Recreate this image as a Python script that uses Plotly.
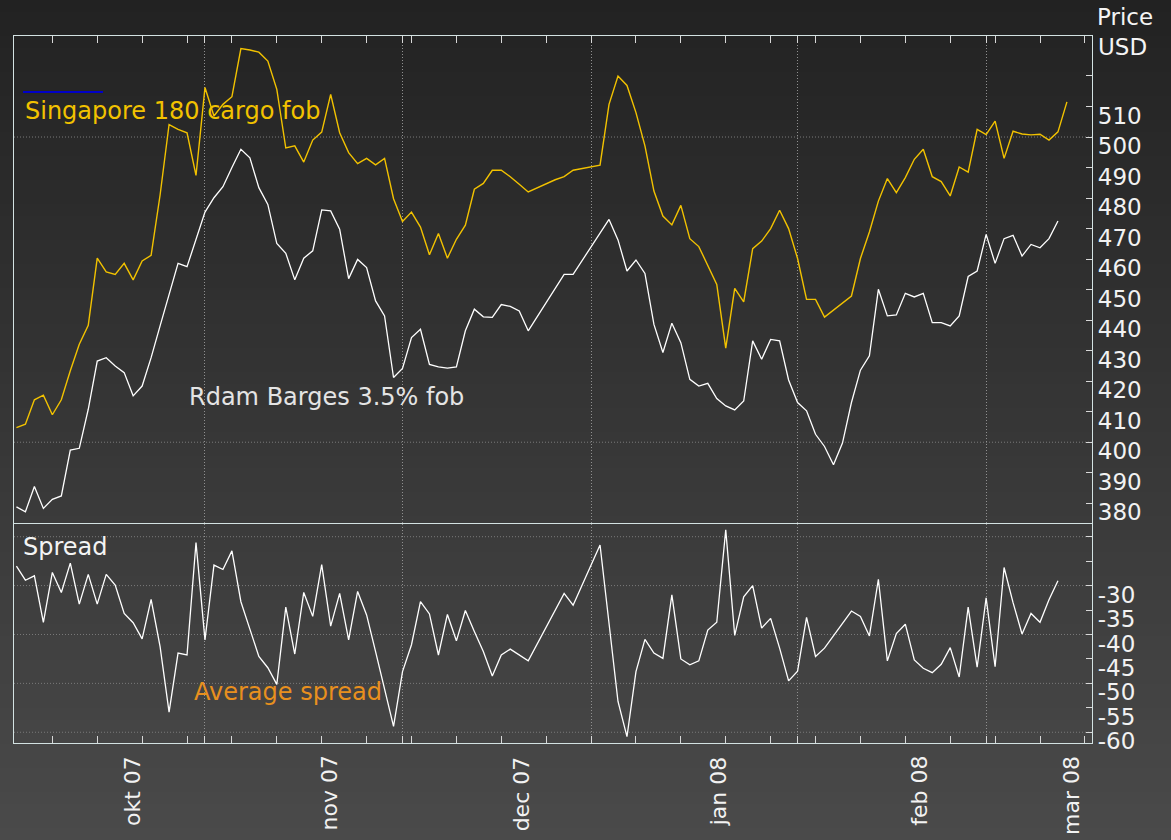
"""
plot.py
-------
Singapore 180 cargo fob vs Rdam Barges 3.5% fob, with the spread underneath.
"""

import pandas as pd
import plotly.graph_objects as go

# ---------------------------------------------------------------------------
# Data (weekday axis Oct 3 2007 – Mar 14 2008)
# ---------------------------------------------------------------------------

dates = pd.bdate_range("2007-10-03", "2008-03-14")

singapore = [
    404.8, 405.9, 413.9, 415.4, 409.0, 413.9, 423.4, 432.1, 438.3, 460.3,
    455.8, 455.0, 458.6, 453.2, 459.4, 461.2, 481.0, 504.1, 502.5, 501.4,
    487.4, 516.2, 506.9, 510.7, 513.2, 529.0, 528.5, 527.8, 524.9, 515.6,
    496.4, 497.1, 491.8, 499.0, 501.6, 514.0, 501.4, 494.9, 491.3, 493.0,
    490.9, 493.0, 479.8, 472.3, 475.4, 470.5, 461.4, 468.4, 460.3, 466.5,
    471.1, 482.9, 484.8, 489.1, 489.1, 487.0, 484.5, 482.0, None, None,
    486.0, 487.0, 489.1, 489.7, None, 490.8, 510.7, 520.0, 516.9, 508.0,
    497.1, 482.3, 474.1, 471.2, 477.6, 466.7, 464.1, 457.8, 451.7, 430.8,
    450.4, 446.0, 463.4, 465.9, 470.0, 476.0, 470.0, 460.2, 446.8, 446.8,
    441.0, None, None, 447.9, 460.2, 468.9, 479.0, 486.4, 481.8, 486.7,
    492.7, 496.0, 487.0, 485.4, 480.7, 490.2, 488.5, 502.5, 500.8, 505.2,
    493.0, 501.9, 501.0, 500.7, 500.9, 499.0, 501.7, 511.5,
]

rotterdam = [
    378.8, 377.2, 385.5, 378.3, 381.3, 382.4, 397.4, 398.0, 410.8, 426.6,
    427.7, 425.0, 422.8, 415.2, 418.4, 427.7, 438.1, 448.5, 458.6, 457.5,
    466.5, 475.4, 480.1, 483.7, 490.0, 496.0, 493.2, 483.4, 477.9, 465.1,
    461.9, 453.2, 460.3, 462.7, 476.1, 475.8, 469.8, 453.6, 459.9, 457.2,
    446.3, 441.4, 421.2, 424.2, 434.3, 437.0, 425.5, 424.7, 424.3, 424.7,
    436.5, 443.6, 441.1, 440.9, 445.1, 444.5, 443.0, 436.5, None, None,
    None, 455.0, 455.0, None, None, None, 473.0, 466.3, 456.1, 459.7,
    455.3, 438.6, 429.4, 439.0, 432.6, 420.6, 418.4, 419.3, 414.3, 411.9,
    410.6, 413.5, 433.2, 427.2, 433.7, 433.2, 420.4, 413.0, 410.3, 402.6,
    398.6, 392.6, 399.7, 413.0, 423.6, 428.3, 450.1, 441.4, 441.7, 448.8,
    447.6, 448.8, 439.2, 439.2, 438.1, 441.4, 454.3, 456.1, 468.1, 458.6,
    466.7, 467.8, 461.0, 464.8, 463.7, 466.7, 472.5, None,
]

spread = [
    -26.0, -28.9, -28.0, -37.5, -27.3, -31.4, -25.4, -33.8, -27.7, -33.8,
    -27.7, -29.9, -35.7, -37.6, -40.9, -32.8, -42.5, -55.9, -43.8, -44.2,
    -21.2, -41.1, -25.8, -26.7, -22.9, -33.3, -38.9, -44.5, -46.8, -50.2,
    -34.4, -44.0, -31.4, -36.3, -25.7, -38.3, -31.6, -41.1, -31.2, -36.0,
    -43.5, -51.0, -58.8, -47.6, -42.1, -33.3, -35.8, -44.2, -35.9, -41.3,
    -35.1, -39.4, -43.5, -48.5, -44.2, -43.0, -44.2, -45.4, None, None,
    None, -31.6, -34.0, None, None, -21.7, -37.7, -53.7, -60.9, -47.6,
    -41.0, -43.8, -44.9, -31.9, -45.0, -46.2, -45.4, -39.1, -37.5, -18.6,
    -40.2, -32.3, -30.0, -38.7, -36.7, -42.8, -49.5, -47.5, -36.5, -44.5,
    -42.8, None, None, -35.2, -36.3, -40.3, -28.7, -45.4, -39.8, -37.9,
    -45.2, -46.9, -47.8, -46.1, -42.7, -48.7, -34.4, -46.7, -32.5, -46.6,
    -26.3, -33.5, -39.9, -35.7, -37.5, -32.9, -29.0, None,
]

month_starts = ["2007-11-01", "2007-12-03", "2008-01-01", "2008-02-01", "2008-03-03"]
month_labels = ["okt 07", "nov 07", "dec 07", "jan 08", "feb 08", "mar 08"]
month_label_at = ["2007-10-19 21:00", "2007-11-20 19:30", "2007-12-20 07:00",
                  "2008-01-21 04:00", "2008-02-20 12:00", "2008-03-14 12:00"]

price_ticks = list(range(380, 530, 10))
price_ticktext = [str(v) if v <= 510 else "" for v in price_ticks]
price_grid = [400, 500]
spread_ticks = list(range(-60, -15, 5))
spread_ticktext = [str(v) if v <= -30 else "" for v in spread_ticks]
spread_grid = list(range(-60, -15, 10))

# ---------------------------------------------------------------------------
# Styling helpers
# ---------------------------------------------------------------------------

W, H = 1171, 840
PLOT_L, PLOT_R, PLOT_T, PLOT_B = 14, 1092, 36, 743
SPLIT = 524
FONT = "DejaVu Sans"
GOLD = "#f2c200"
LINE = "#d3e2e2"
TICK = "#d8d8d8"
DOTS = "1px,2px"
PRICE_RANGE = [373.2, 533.1]
SPREAD_RANGE = [-62.2, -17.4]


def px_x(px):
    return (px - PLOT_L) / (PLOT_R - PLOT_L)


def px_y(py):
    return (PLOT_B - py) / (PLOT_B - PLOT_T)


def gradient_shapes(n=70, top=0x22, bottom=0x4a):
    """Stack of thin rectangles faking the dark vertical background gradient."""
    shapes = []
    for i in range(n):
        p0, p1 = H * i / n, H * (i + 1) / n + 1
        c = round(top + (bottom - top) * (i + 0.5) / n)
        shapes.append(dict(type="rect", xref="paper", yref="paper", layer="below",
                           x0=-0.05, x1=1.1, y0=px_y(p1), y1=px_y(p0),
                           line_width=0, fillcolor=f"rgb({c},{c},{c})"))
    return shapes


def hgrid(values, yref):
    """Dotted horizontal grid lines, only at the given axis values."""
    return [dict(type="line", xref="paper", yref=yref, layer="below",
                 x0=0, x1=1, y0=v, y1=v,
                 line=dict(color="#7a7a7a", width=1, dash=DOTS)) for v in values]


def label(text, px, py, color, size=24, **kw):
    return dict(text=text, xref="paper", yref="paper", x=px_x(px), y=px_y(py),
                xanchor="left", yanchor="middle", showarrow=False,
                font=dict(family=FONT, size=size, color=color), **kw)


# ---------------------------------------------------------------------------
# Figure
# ---------------------------------------------------------------------------

fig = go.Figure()
fig.add_trace(go.Scatter(x=dates, y=singapore, mode="lines", connectgaps=True,
                         line=dict(color=GOLD, width=1.4), name="Singapore 180 cargo fob"))
fig.add_trace(go.Scatter(x=dates, y=rotterdam, mode="lines", connectgaps=True,
                         line=dict(color="#ffffff", width=1.3), name="Rdam Barges 3.5% fob"))
fig.add_trace(go.Scatter(x=dates, y=spread, mode="lines", connectgaps=True,
                         xaxis="x2", yaxis="y2",
                         line=dict(color="#ffffff", width=1.3), name="Spread"))

x_range = ["2007-10-02 17:30", "2008-03-18 19:00"]
x_common = dict(
    type="date", range=x_range, rangebreaks=[dict(bounds=["sat", "mon"])],
    tickvals=month_starts, showticklabels=False,
    ticks="inside", ticklen=7, tickcolor=TICK,
    showgrid=True, griddash=DOTS, gridcolor="#909090", gridwidth=1,
    minor=dict(ticks="inside", ticklen=7, tickcolor=TICK, showgrid=False,
               dtick=7 * 86400000, tick0="2007-10-02"),
    showline=True, linecolor=LINE, linewidth=1.3, zeroline=False,
)
y_common = dict(side="right", ticks="inside", ticklen=6, tickcolor=TICK,
                showline=True, linecolor=LINE, linewidth=1.3, mirror=True,
                showgrid=False, zeroline=False, ticklabelshift=9,
                tickfont=dict(family=FONT, size=23, color="#f2f2f2"))

split = px_y(SPLIT)
fig.update_layout(
    width=W, height=H, autosize=False,
    margin=dict(l=PLOT_L, r=W - PLOT_R, t=PLOT_T, b=H - PLOT_B),
    paper_bgcolor="#222222", plot_bgcolor="rgba(0,0,0,0)",
    showlegend=False,
    font=dict(family=FONT, color="#ffffff"),
    xaxis=dict(anchor="y", side="top", mirror=False, **x_common),
    xaxis2=dict(anchor="y2", side="bottom", matches="x", mirror=True, **x_common),
    yaxis=dict(domain=[split, 1], anchor="x", range=PRICE_RANGE,
               tickvals=price_ticks, ticktext=price_ticktext, **y_common),
    yaxis2=dict(domain=[0, split], anchor="x2", range=SPREAD_RANGE,
                tickvals=spread_ticks, ticktext=spread_ticktext, **y_common),
    shapes=gradient_shapes() + hgrid(price_grid, "y") + hgrid(spread_grid, "y2") + [
        dict(type="line", xref="paper", yref="paper", x0=px_x(23), x1=px_x(103),
             y0=px_y(92), y1=px_y(92), line=dict(color="#0000c8", width=2)),
    ],
)

annotations = [
    label("Singapore 180 cargo fob", 23, 111, GOLD),
    label("Rdam Barges 3.5% fob", 187, 397, "#e4e4e4"),
    label("Spread", 21, 547, "#f4f4f4"),
    label("Average spread", 192, 692, "#e8901e"),
    label("Price", 1095, 17, "#f4f4f4", size=23),
    label("USD", 1096, 47, "#f4f4f4", size=23),
]
for text, when in zip(month_labels, month_label_at):
    annotations.append(dict(text=text, x=when, xref="x2", y=px_y(755), yref="paper",
                            textangle=-90, xanchor="center", yanchor="top",
                            showarrow=False, borderpad=0,
                            font=dict(family=FONT, size=22, color="#f2f2f2")))
fig.update_layout(annotations=annotations)

# the default page keeps an 8px body margin; drop it so the figure sits at 0,0
fig.write_html("out.html", config={"displayModeBar": False},
               post_script="document.body.style.margin='0';")
